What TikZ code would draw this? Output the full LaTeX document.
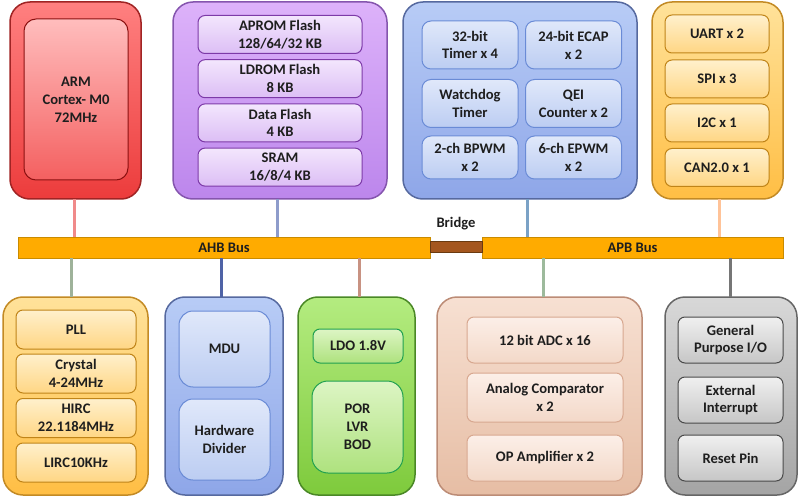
\documentclass[tikz,border=0pt]{standalone}
\usepackage{fontspec}
\setmainfont{Carlito}
\usepackage{tikz}
\usetikzlibrary{positioning,calc,shadings}
\definecolor{inkDark}{HTML}{1E1E1E}
\definecolor{cpuHi}{HTML}{FF8080}
\definecolor{cpuLo}{HTML}{EC3C3C}
\definecolor{cpuEdge}{HTML}{A02424}
\definecolor{cpuCellHi}{HTML}{FFBDBD}
\definecolor{cpuCellLo}{HTML}{F46060}
\definecolor{cpuCellEdge}{HTML}{8B1010}
\definecolor{memHi}{HTML}{DDB2FA}
\definecolor{memLo}{HTML}{BC86EC}
\definecolor{memEdge}{HTML}{8555AE}
\definecolor{memCellHi}{HTML}{F3E6FD}
\definecolor{memCellLo}{HTML}{DCBEF5}
\definecolor{memCellEdge}{HTML}{7D3AA8}
\definecolor{tmrHi}{HTML}{B8CCF6}
\definecolor{tmrLo}{HTML}{8EA6E8}
\definecolor{tmrEdge}{HTML}{56699F}
\definecolor{tmrCellHi}{HTML}{E0E8FA}
\definecolor{tmrCellLo}{HTML}{BCCDF2}
\definecolor{tmrCellEdge}{HTML}{6A8BD6}
\definecolor{comHi}{HTML}{FFE29A}
\definecolor{comLo}{HTML}{FFBE44}
\definecolor{comEdge}{HTML}{C38A24}
\definecolor{comCellHi}{HTML}{FFF0CC}
\definecolor{comCellLo}{HTML}{FFD684}
\definecolor{comCellEdge}{HTML}{C08418}
\definecolor{pwrHi}{HTML}{B4EC80}
\definecolor{pwrLo}{HTML}{7ECA3C}
\definecolor{pwrEdge}{HTML}{4A8826}
\definecolor{pwrCellHi}{HTML}{DDF5C4}
\definecolor{pwrCellLo}{HTML}{AEE27E}
\definecolor{pwrCellEdge}{HTML}{20A050}
\definecolor{anaHi}{HTML}{F7E0D2}
\definecolor{anaLo}{HTML}{E6BDA4}
\definecolor{anaEdge}{HTML}{BC8C76}
\definecolor{anaCellHi}{HTML}{FCEFE8}
\definecolor{anaCellLo}{HTML}{F3D8C8}
\definecolor{anaCellEdge}{HTML}{D8A890}
\definecolor{gpioHi}{HTML}{D8D8D8}
\definecolor{gpioLo}{HTML}{A4A4A4}
\definecolor{gpioEdge}{HTML}{666666}
\definecolor{gpioCellHi}{HTML}{F0F0F0}
\definecolor{gpioCellLo}{HTML}{C6C6C6}
\definecolor{gpioCellEdge}{HTML}{4A4A4A}
\definecolor{busFill}{HTML}{FFAB00}
\definecolor{busEdge}{HTML}{C98B00}
\definecolor{brgFill}{HTML}{A4561E}
\definecolor{brgEdge}{HTML}{6A3A10}
\definecolor{lnkRed}{HTML}{F08A8A}
\definecolor{lnkMem}{HTML}{8E9CCB}
\definecolor{lnkTmr}{HTML}{7BA2C6}
\definecolor{lnkCom}{HTML}{FFC398}
\definecolor{lnkClk}{HTML}{9EB29A}
\definecolor{lnkMdu}{HTML}{4F63A6}
\definecolor{lnkPwr}{HTML}{C89282}
\definecolor{lnkAna}{HTML}{9DBA9C}
\definecolor{lnkGpio}{HTML}{767676}

\begin{document}
\begin{tikzpicture}[x=1pt,y=-1pt,
    txt/.style   = {font=\fontsize{14.6}{17.8}\selectfont\bfseries,text=inkDark,align=center},
    outer/.style = {rounded corners=20pt,inner sep=0pt,outer sep=0pt,line width=1.5pt},
    cell/.style  = {txt,rounded corners=7pt,inner sep=0pt,outer sep=0pt,line width=1pt},
    grp/.style   = {outer,top color=#1Hi,bottom color=#1Lo,draw=#1Edge},
    grpcell/.style = {cell,top color=#1CellHi,bottom color=#1CellLo,draw=#1CellEdge},
    bus/.style   = {txt,fill=busFill,draw=busEdge,line width=0.8pt,inner sep=0pt,outer sep=0pt},
    link/.style  = {line width=3pt},
  ]
  \useasboundingbox (0,0) rectangle (800,497);

  % ── Bus AHB / APB et pont ─────────────────────────────────────────────────
  \node[bus,minimum width=412,minimum height=21] (ahb) at (224,247.5) {AHB Bus};
  \node[bus,minimum width=301,minimum height=21] (apb) at (632.5,247.5) {APB Bus};
  \node[fill=brgFill,draw=brgEdge,line width=0.8pt,inner sep=0pt,
        minimum width=52,minimum height=11] (brg) at (456,246.5) {};
  \node[txt] (brglabel) at (456,224) {Bridge};

  % ── Cœur ──────────────────────────────────────────────────────────────────
  \node[grp=cpu,minimum width=131,minimum height=197] (cpu) at (75.5,100.5) {};
  \node[grpcell=cpu,rounded corners=12pt,minimum width=104,minimum height=161]
       (core) at (76,99.5) {ARM\\Cortex- M0\\72MHz};

  % ── Mémoires ──────────────────────────────────────────────────────────────
  \node[grp=mem,minimum width=214,minimum height=197] (mem) at (280,100.5) {};
  \foreach \n/\yy/\t in {aprom/34.5/{APROM Flash\\128/64/32 KB},
                         ldrom/78.7/{LDROM Flash\\8 KB},
                         dflash/122.9/{Data Flash\\4 KB},
                         sram/167.1/{SRAM\\16/8/4 KB}}
    \node[grpcell=mem,minimum width=164,minimum height=38] (\n) at (280,\yy) {\t};

  % ── Temporisateurs ────────────────────────────────────────────────────────
  \node[grp=tmr,minimum width=234,minimum height=197] (tmr) at (520,100.5) {};
  \foreach \n/\xx/\yy/\hh/\t in {timer/470/45/48/{32-bit\\Timer x 4},
                                 ecap/573.5/45/48/{24-bit ECAP\\x 2},
                                 wdt/470/103.5/48/{Watchdog\\Timer},
                                 qei/573.5/103.5/48/{QEI\\Counter x 2},
                                 bpwm/470/157.5/43/{2-ch BPWM\\x 2},
                                 epwm/573.5/157.5/43/{6-ch EPWM\\x 2}}
    \node[grpcell=tmr,rounded corners=9pt,minimum width=96,minimum height=\hh]
         (\n) at (\xx,\yy) {\t};

  % ── Communication ─────────────────────────────────────────────────────────
  \node[grp=com,minimum width=131,minimum height=197] (com) at (717.5,100.5) {};
  \foreach \n/\yy/\t in {uart/34/{UART x 2}, spi/79/{SPI x 3},
                         iic/123/{I2C x 1}, can/167.5/{CAN2.0 x 1}}
    \node[grpcell=com,minimum width=104,minimum height=38] (\n) at (717,\yy) {\t};

  % ── Horloges ──────────────────────────────────────────────────────────────
  \node[grp=com,minimum width=145,minimum height=198] (clk) at (75.5,396) {};
  \foreach \n/\yy/\t in {pll/329.5/{PLL}, xtal/373.5/{Crystal\\4-24MHz},
                         hirc/418/{HIRC\\22.1184MHz}, lirc/462.5/{LIRC10KHz}}
    \node[grpcell=com,minimum width=120,minimum height=39] (\n) at (76,\yy) {\t};

  % ── Calcul ────────────────────────────────────────────────────────────────
  \node[grp=tmr,minimum width=118,minimum height=198] (mdublk) at (224,396) {};
  \node[grpcell=tmr,rounded corners=14pt,minimum width=91,minimum height=76]
       (mdu) at (224.5,349) {MDU};
  \node[grpcell=tmr,rounded corners=14pt,minimum width=91,minimum height=81]
       (hdiv) at (224.5,439.5) {Hardware\\Divider};

  % ── Alimentation ──────────────────────────────────────────────────────────
  \node[grp=pwr,minimum width=117,minimum height=198] (pwr) at (356.5,396) {};
  \node[grpcell=pwr,minimum width=90,minimum height=34] (ldo) at (358,346) {LDO 1.8V};
  \node[grpcell=pwr,rounded corners=16pt,minimum width=91,minimum height=92]
       (por) at (357.5,427) {POR\\LVR\\BOD};

  % ── Analogique ────────────────────────────────────────────────────────────
  \node[grp=ana,minimum width=205,minimum height=198] (ana) at (539.5,396) {};
  \foreach \n/\yy/\hh/\t in {adc/340/46/{12 bit ADC x 16},
                             acmp/397.5/49/{Analog Comparator\\x 2},
                             opa/458/46/{OP Amplifier x 2}}
    \node[grpcell=ana,minimum width=156,minimum height=\hh] (\n) at (545,\yy) {\t};

  % ── Entrées / sorties ─────────────────────────────────────────────────────
  \node[grp=gpio,minimum width=132,minimum height=198] (gpio) at (731,396) {};
  \foreach \n/\yy/\t in {gpo/340/{General\\Purpose I/O},
                         eint/400/{External\\Interrupt},
                         rst/458/{Reset Pin}}
    \node[grpcell=gpio,minimum width=105,minimum height=46] (\n) at (730.5,\yy) {\t};

  % ── Liaisons au bus ───────────────────────────────────────────────────────
  \draw[link,lnkRed]  (cpu.south -| 74,0)  -- (ahb.north -| 74,0);
  \draw[link,lnkMem]  (mem.south -| 277,0) -- (ahb.north -| 277,0);
  \draw[link,lnkTmr]  (tmr.south -| 527,0) -- (apb.north -| 527,0);
  \draw[link,lnkCom]  (com.south -| 719,0) -- (apb.north -| 719,0);
  \draw[link,lnkClk]  (ahb.south -| 71,0)  -- (clk.north -| 71,0);
  \draw[link,lnkMdu]  (ahb.south -| 221,0) -- (mdublk.north -| 221,0);
  \draw[link,lnkPwr]  (ahb.south -| 359,0) -- (pwr.north -| 359,0);
  \draw[link,lnkAna]  (apb.south -| 543,0) -- (ana.north -| 543,0);
  \draw[link,lnkGpio] (apb.south -| 730,0) -- (gpio.north -| 730,0);

\end{tikzpicture}
\end{document}
